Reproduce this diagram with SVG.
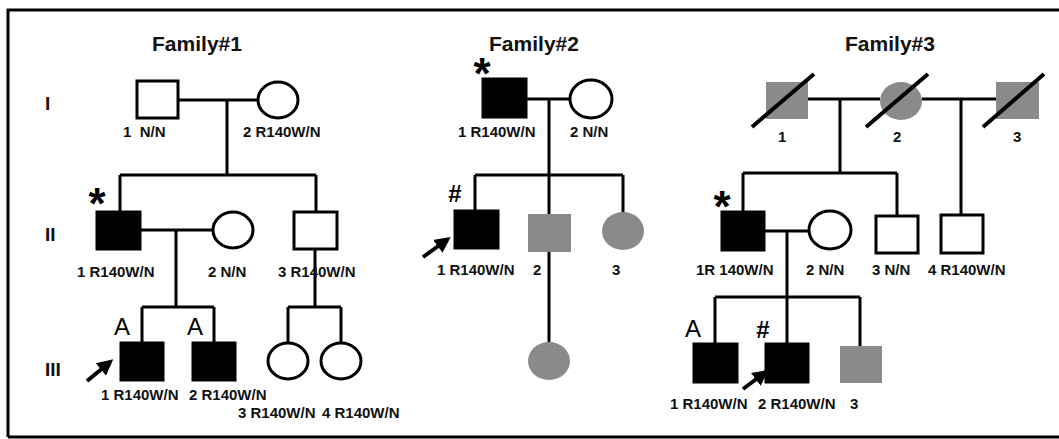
<svg xmlns="http://www.w3.org/2000/svg" width="1059" height="439" viewBox="0 0 1059 439">
<defs>
<style>
.ln{stroke:#000;stroke-width:3;fill:none}
.w{fill:#fff;stroke:#000;stroke-width:3}
.b{fill:#000;stroke:#000;stroke-width:3}
.g{fill:#8a8a8a;stroke:none}
.sl{stroke:#000;stroke-width:4}
.lb{font-family:"Liberation Sans",Arial,sans-serif;font-weight:bold;font-size:15px;fill:#111}
.tt{font-family:"Liberation Sans",Arial,sans-serif;font-weight:bold;font-size:21px;fill:#111;text-anchor:middle}
.rn{font-family:"Liberation Sans",Arial,sans-serif;font-weight:bold;font-size:19px;fill:#111}
.ast{font-family:"Liberation Sans",Arial,sans-serif;font-weight:bold;font-size:44px;fill:#000;text-anchor:middle}
.hs{font-family:"Liberation Sans",Arial,sans-serif;font-weight:bold;font-size:24px;fill:#000;text-anchor:middle}
.aa{font-family:"Liberation Sans",Arial,sans-serif;font-size:24px;fill:#000;text-anchor:middle}
.ar{stroke:#000;stroke-width:4;fill:none}
</style>
<marker id="ah" markerWidth="4" markerHeight="4" refX="1" refY="2" orient="auto" markerUnits="strokeWidth">
<path d="M0,0 L4,2 L0,4 z" fill="#000"/>
</marker>
</defs>
<rect x="0" y="0" width="1059" height="439" fill="#fff"/>
<g id="frame">
<path d="M8,437 L8,10 L1059,10" class="ln" stroke-width="2"/>
<path d="M8,437 L1059,437" class="ln" stroke-width="2"/>
</g>
<g id="titles">
<text class="tt" x="197" y="51">Family#1</text>
<text class="tt" x="534" y="51">Family#2</text>
<text class="tt" x="890" y="51">Family#3</text>
<text class="rn" x="45" y="110">I</text>
<text class="rn" x="45" y="241">II</text>
<text class="rn" x="45" y="376">III</text>
</g>
<g id="connectors">
<path class="ln" d="M178,100 H258 M227,100 V175 M120,175 H316 M120,175 V212 M316,175 V212 M140,230 H213 M176,230 V307 M142,307 H214 M142,307 V343 M214,307 V343 M315,249 V307 M288,307 H341 M288,307 V343 M341,307 V343"/>
<path class="ln" d="M526,99 H570 M549,99 V175 M475,175 H623 M475,175 V211 M549,175 V214 M623,175 V212 M549,252 V342"/>
<path class="ln" d="M808,99 H880 M922,99 H996 M840,99 V173 M961,99 V215 M743,173 H897 M743,173 V212 M897,173 V216 M764,231 H809 M787,231 V297 M715,297 H860 M715,297 V344 M787,297 V344 M860,297 V346"/>
<line class="ar" x1="87" y1="381" x2="104" y2="367" marker-end="url(#ah)"/>
<line class="ar" x1="423" y1="257" x2="441" y2="244" marker-end="url(#ah)"/>
<line class="ar" x1="743" y1="389" x2="759" y2="377" marker-end="url(#ah)"/>
</g>
<g id="f1-I-1"><rect class="w" x="137" y="81" width="41" height="37"/><text class="lb" x="123" y="137" xml:space="preserve">1  N/N</text></g>
<g id="f1-I-2"><ellipse class="w" cx="278" cy="100" rx="20" ry="18"/><text class="lb" x="243" y="137">2 R140W/N</text></g>
<g id="f1-II-1"><rect class="b" x="97" y="212" width="43" height="37"/><text class="ast" x="97" y="219">*</text><text class="lb" x="77" y="277">1 R140W/N</text></g>
<g id="f1-II-2"><ellipse class="w" cx="233" cy="230" rx="20" ry="18"/><text class="lb" x="208" y="277">2 N/N</text></g>
<g id="f1-II-3"><rect class="w" x="294" y="212" width="43" height="37"/><text class="lb" x="278" y="277">3 R140W/N</text></g>
<g id="f1-III-1"><rect class="b" x="121" y="343" width="42" height="37"/><text class="aa" x="122" y="335">A</text><text class="lb" x="101" y="400">1 R140W/N</text></g>
<g id="f1-III-2"><rect class="b" x="193" y="343" width="42" height="37"/><text class="aa" x="195" y="335">A</text><text class="lb" x="189" y="400">2 R140W/N</text></g>
<g id="f1-III-3"><ellipse class="w" cx="288" cy="361" rx="20" ry="18"/><text class="lb" x="238" y="418">3 R140W/N</text></g>
<g id="f1-III-4"><ellipse class="w" cx="341" cy="361" rx="20" ry="18"/><text class="lb" x="322" y="418">4 R140W/N</text></g>
<g id="f2-I-1"><rect class="b" x="483" y="79" width="43" height="38"/><text class="ast" x="482" y="89">*</text><text class="lb" x="458" y="137">1 R140W/N</text></g>
<g id="f2-I-2"><ellipse class="w" cx="591" cy="99" rx="21" ry="19"/><text class="lb" x="570" y="137">2 N/N</text></g>
<g id="f2-II-1"><rect class="b" x="455" y="211" width="43" height="37"/><text class="hs" x="455" y="202">#</text><text class="lb" x="437" y="275">1 R140W/N</text></g>
<g id="f2-II-2"><rect class="g" x="528" y="214" width="43" height="38"/><text class="lb" x="533" y="275">2</text></g>
<g id="f2-II-3"><ellipse class="g" cx="623" cy="231" rx="21" ry="19"/><text class="lb" x="612" y="275">3</text></g>
<g id="f2-III-1"><ellipse class="g" cx="549" cy="361" rx="21" ry="19"/></g>
<g id="f3-I-1"><rect class="g" x="766" y="82" width="42" height="37"/><line class="sl" x1="752" y1="127" x2="814" y2="74"/><text class="lb" x="778" y="142">1</text></g>
<g id="f3-I-2"><ellipse class="g" cx="901" cy="101" rx="21" ry="19"/><line class="sl" x1="866" y1="127" x2="928" y2="74"/><text class="lb" x="893" y="142">2</text></g>
<g id="f3-I-3"><rect class="g" x="996" y="82" width="43" height="37"/><line class="sl" x1="983" y1="127" x2="1044" y2="74"/><text class="lb" x="1013" y="142">3</text></g>
<g id="f3-II-1"><rect class="b" x="722" y="212" width="42" height="38"/><text class="ast" x="722" y="222">*</text><text class="lb" x="696" y="275">1R 140W/N</text></g>
<g id="f3-II-2"><ellipse class="w" cx="830" cy="230" rx="21" ry="19"/><text class="lb" x="806" y="275">2 N/N</text></g>
<g id="f3-II-3"><rect class="w" x="876" y="216" width="42" height="37"/><text class="lb" x="872" y="275">3 N/N</text></g>
<g id="f3-II-4"><rect class="w" x="941" y="215" width="42" height="38"/><text class="lb" x="928" y="275">4 R140W/N</text></g>
<g id="f3-III-1"><rect class="b" x="694" y="344" width="43" height="38"/><text class="aa" x="693" y="337">A</text><text class="lb" x="670" y="409">1 R140W/N</text></g>
<g id="f3-III-2"><rect class="b" x="766" y="344" width="42" height="38"/><text class="hs" x="763" y="338">#</text><text class="lb" x="758" y="409">2 R140W/N</text></g>
<g id="f3-III-3"><rect class="g" x="840" y="346" width="42" height="37"/><text class="lb" x="850" y="409">3</text></g>
</svg>
